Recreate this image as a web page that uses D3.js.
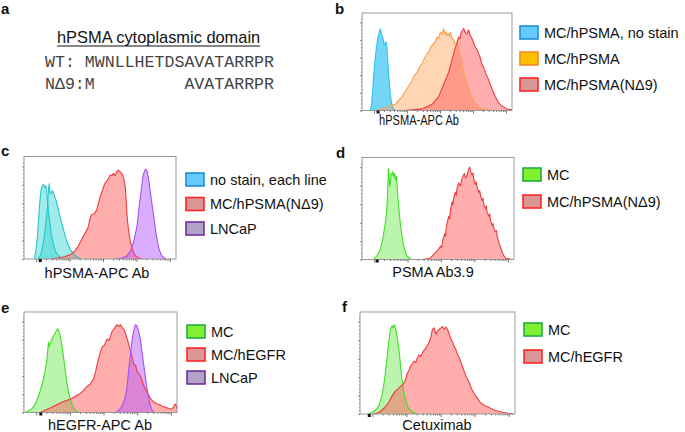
<!DOCTYPE html>
<html>
<head>
<meta charset="utf-8">
<script src="https://cdn.jsdelivr.net/npm/d3@7"></script>
<style>
  body { margin: 0; background: #fff; }
  text { font-family: "Liberation Sans", Arial, sans-serif; fill: #111; }
  .seq { font-family: "Liberation Mono", "Courier New", monospace; fill: #444; font-size: 16.6px; }
</style>
</head>
<body>
<div id="fig"></div>
<script>
// Data (x = channel position in % of axis, y = % of max count)
// ============================================================================
const seqTitle = "hPSMA cytoplasmic domain",
    seqLines = ["WT: MWNLLHETDSAVATARRPR", "N\u03949:M         AVATARRPR"];

const bNoStain = [[5.5,0],[6.5,8],[7.5,30],[8.5,52],[9.5,66],[10.5,78],[11.5,84],[12.2,88],[12.8,83],[13.5,80],[14.2,76],[14.8,70],[15.4,72],[16,74],[16.5,70],[17,58],[17.6,42],[18.3,28],[19,16],[19.8,7],[20.8,2],[22,0]];
const bPSMA = [[10,0],[15.6,3.3],[22.2,6.6],[26.7,14.9],[31.1,26.4],[33,31],[34.4,36.3],[36.7,41.3],[38.9,47.9],[40,50],[41.1,54.5],[43.3,61],[44.5,63],[45.6,67.7],[47.8,72.6],[49,74],[50,79.2],[51,78],[52.2,84.2],[53.2,82],[54.4,88.1],[55.3,82],[56,85],[56.7,80.9],[57.5,83],[58.3,80],[58.9,84.2],[60,78],[61.1,75.9],[62,71],[63.3,74.3],[64.3,66],[65.6,57.8],[67.8,41.3],[70,28],[72.2,18.2],[74.4,9.9],[77.8,3.3],[82.2,0.7],[86.7,0]];
const bND9 = [[28.9,0],[40,1.7],[46.7,6.6],[51.1,14.9],[54.4,28],[57.8,41.3],[60,54.5],[62.2,67.7],[63.3,72],[64.4,79.2],[65.2,77],[66.2,84.2],[67.8,88.4],[68.8,84],[70,82.5],[71.1,86.8],[72.2,81],[73.3,77.6],[74.4,73],[75.6,67.7],[76.6,66],[77.8,61],[79,56],[80,49.5],[81,47],[82.2,41.3],[84.4,33],[86.7,23.1],[88.9,14.9],[91.1,8.3],[93.3,5],[96.7,1.7],[100,0.7]];

const cNoStainA = [[6.7,0],[7.8,8.1],[8.9,24.4],[10,50.3],[11.1,69.8],[12.2,75.6],[12.9,76.3],[13.8,73],[14.4,74.7],[15.1,66.6],[15.6,56.8],[16.7,40.6],[17.8,27.6],[18.9,17.9],[20,11.4],[21.1,6.5],[23.3,2.3],[25.6,0]];
const cNoStainB = [[9.3,0],[11.1,4.9],[12.9,17.9],[14.4,37.3],[15.6,56.8],[16.2,73],[16.7,77],[17.1,68.2],[17.8,66.6],[18.4,69.8],[19.1,69.2],[20,64.9],[21.1,60.1],[22.2,53.6],[23.3,45.5],[24.4,39],[25.6,32.5],[26.7,26],[27.8,19.5],[28.9,14.6],[30,11.4],[31.1,8.1],[33.3,4.2],[35.6,1.6],[37.8,0]];
const cND9 = [[17.8,0],[22.2,1],[26.7,2.3],[31.1,4.9],[33.3,8.1],[35.6,13],[37.8,19.5],[40,26],[42.2,32.5],[43.3,40.6],[44.4,45.5],[46.2,46.1],[47.8,50.3],[48.9,56.8],[50,63.3],[51.1,68.2],[52.2,73.1],[53.3,77.9],[54.4,79.5],[55.6,82.8],[56.7,86],[57.8,85.4],[58.9,87.7],[60,85.4],[61.1,89.9],[62.2,90.9],[63.3,89.3],[64.4,87.7],[65.6,82.8],[66.7,73.1],[67.3,56.8],[68,40.6],[68.9,27.6],[70,17.9],[71.1,11.4],[72.2,6.5],[73.3,3.2],[75.6,1],[77.8,0]];
const cLNCaP = [[60,0],[64.4,1],[67.8,3.2],[70,8.1],[72.2,17.9],[74.4,34.1],[76,56.8],[77.3,73.1],[78.4,86],[79.6,90.9],[80.4,91.9],[81.1,89.3],[82.2,79.5],[83.3,66.6],[84.4,53.6],[85.6,40.6],[86.7,27.6],[87.8,17.9],[88.9,9.7],[90.7,3.2],[93.3,0]];

const dMC = [[7.7,0],[9.9,3.9],[12.1,10.4],[13.6,20.2],[14.9,33.2],[15.8,43],[16.5,56],[16.9,72.3],[17.4,93.5],[17.8,85.3],[18.2,75.6],[18.7,78.8],[19.1,88.6],[19.8,87],[20.2,90.2],[20.9,85.3],[21.5,88.6],[22,82.1],[22.6,85.3],[23.1,75.6],[23.7,62.5],[24.6,46.3],[25.5,33.2],[26.4,23.5],[27.5,13.7],[28.6,7.2],[29.7,3.3],[31.9,0.7],[33,0]];
const dND9 = [[39.6,0],[42.9,0.7],[45.1,1.6],[47.3,5.5],[49.5,8.8],[51.6,13.7],[52.4,12],[53.2,20.2],[54.5,26.7],[55,24],[55.4,33.2],[56.3,39.7],[57.1,44.6],[57.7,42],[58.2,51.1],[59.3,59.3],[59.9,56],[60.4,64.2],[61.5,69.1],[62,66],[62.6,73.9],[63.7,78.8],[64.8,75.6],[65.5,82.1],[66.4,85.3],[67.3,88.6],[68.1,83.7],[69.2,87],[69.9,91.9],[70.8,95.1],[71.6,90.2],[72.5,87],[73,89],[73.6,82.1],[74.7,77.2],[75.2,80],[75.8,73.9],[76.9,69.1],[77.4,71],[78,65.8],[79.1,60.9],[79.6,63],[80.2,56],[81.3,52.8],[81.8,55],[82.4,47.9],[83.5,44.6],[84,47],[84.6,39.7],[85.7,34.9],[86.2,37],[86.8,31.6],[87.9,28.3],[88.4,30],[89,23.5],[90.1,16.9],[91.2,12.1],[92.3,7.2],[93.4,3.9],[94.5,1.3],[96.7,0.7],[98.9,0]];

const eMC = [[0.7,0],[3.9,2.3],[6.1,5.6],[8.3,12.3],[10.5,22.2],[12.3,32.1],[13.8,43.7],[14.9,53.6],[15.6,66.9],[16,73.5],[16.4,68.5],[17.1,71.9],[17.8,75.2],[18.9,78.5],[20,81.8],[21.1,85.1],[21.9,87.4],[22.8,85.1],[23.7,80.1],[24.8,70.2],[25.9,57],[27,43.7],[28.1,30.5],[29.2,20.5],[30.3,13.9],[31.4,8.3],[32.5,4.6],[34.2,1.3],[36.8,0]];
const eEGFR = [[10.5,0],[13.8,2.3],[17.1,4.6],[20.4,7.3],[23.7,9.9],[27,12.3],[30.3,13.9],[33.6,17.2],[36.8,19.9],[39,23.2],[41.2,27.2],[43.4,29.8],[45.6,35.4],[46.7,42.1],[47.8,50.3],[48.9,57],[50,63.6],[51.1,68.5],[52.6,70.2],[53.3,73.5],[54.4,76.8],[55.5,75.2],[56.6,80.1],[57.7,85.1],[58.8,86.8],[59.9,90.1],[61,91.7],[62.1,90.1],[63.2,91.7],[64.3,88.4],[65.4,86.8],[66.4,81.8],[67.5,76.8],[68.6,70.2],[69.7,63.6],[70.8,57],[71.9,50.3],[73,48.7],[74.1,42.1],[75.2,40.4],[76.3,37.1],[78.5,27.2],[80.7,20.5],[82.9,13.9],[85.1,10.6],[87.3,8.9],[89.5,7.3],[91.7,5.6],[93.9,4.6],[96,3.3],[97.8,5.6],[98.7,8.9],[99.6,7.3],[100,4]];
const eLNCaP = [[59.9,0],[62.1,2.3],[64.3,7.3],[65.8,13.9],[67.1,23.8],[68.2,40.4],[69.3,57],[70.2,70.2],[71.1,80.1],[71.9,86.8],[72.8,91.7],[73.7,90.7],[74.6,86.8],[75.4,81.8],[76.3,73.5],[77.4,60.3],[78.5,47],[79.6,33.8],[80.7,22.2],[81.8,12.3],[82.9,5.6],[84,1.3],[85.1,0]];

const fMC = [[5.4,0],[8.7,2.3],[10.9,5.5],[12.6,10.4],[14.1,18.6],[15.2,28.3],[16.3,41.4],[17.4,57.7],[18.5,73.9],[19.6,87],[20.7,90.9],[21.3,88.6],[22.2,91.9],[22.8,88.6],[23.9,80.5],[25,67.4],[26.1,51.1],[27.2,34.9],[28.3,23.5],[29.3,15.3],[30.4,9.4],[31.5,5.5],[33.7,2.3],[37,0]];
const fEGFR = [[8.7,0],[12,1.6],[14.1,3.9],[16.3,7.2],[18.5,12.1],[20.7,18.6],[22.8,23.5],[25,26.7],[27.2,30],[28.3,31.6],[29.3,34.9],[30.4,41.4],[31.5,44.6],[32.6,49.5],[33.7,51.1],[34.8,54.4],[35.9,52.8],[37,57.7],[38,60.9],[39.1,59.3],[40.2,62.5],[41.3,65.8],[42.4,67.4],[43.5,70.7],[44.6,73.9],[45.7,78.8],[46.7,87],[47.8,88.6],[48.9,82.1],[50,85.3],[51.1,87],[52.2,88.6],[53.3,90.2],[54.3,87],[55.4,89.6],[56.5,87],[57.6,82.1],[58.7,77.2],[59.8,73.9],[60.9,69.1],[62,65.8],[63,60.9],[64.1,57.7],[65.2,52.8],[66.3,47.9],[67.4,43],[68.5,38.1],[69.6,34.9],[70.7,31.6],[71.7,26.7],[72.8,23.5],[73.9,20.2],[75,17.9],[76.1,15.3],[77.2,12.7],[78.3,11.1],[79.3,9.8],[80.4,8.8],[82.6,7.2],[84.8,5.5],[87,3.9],[89.1,2.9],[92.4,1.6],[95.7,0.7],[98.9,0]];

// Axis ticks (decades of the log channel axis, count axis)
const decadeTicks = [8, 30, 52, 74, 96],
    countTicks = [0, 19, 38, 57, 76, 95];

// Styles
// ============================================================================
const styles = {
    blue:   {fill: "#5ccff6", op: 0.85, stroke: "#32c0ee", sw: "#66ccff", sb: "#1e8fd6"},
    orange: {fill: "#fca45c", op: 0.45, stroke: "#f7a24c", sw: "#ffc000", sb: "#ef8a2c"},
    red:    {fill: "#ff5c5c", op: 0.5,  stroke: "#f23b3b", sw: "#d99694", sb: "#ff2626"},
    teal:   {fill: "#2fd3d3", op: 0.45, stroke: "#26c7cc", sw: "#66ccff", sb: "#1e8fd6"},
    purple: {fill: "#b45cff", op: 0.5,  stroke: "#a452ee", sw: "#b3a2c7", sb: "#7030a0"},
    green:  {fill: "#5ee83c", op: 0.42, stroke: "#3fe024", sw: "#80f030", sb: "#1fb040"}
};

const panels = [
    {tag: "b", box: [362, 13, 512, 110.5], tagPos: [335, 14], xlab: "hPSMA-APC Ab", xlabPos: [419, 125], xlabLen: 80,
        legend: [520, 26, 26], zero: 10.7,
        series: [{d: bNoStain, s: "blue"}, {d: bPSMA, s: "orange"}, {d: bND9, s: "red"}],
        keys: [["MC/hPSMA, no stain", "blue"], ["MC/hPSMA", "orange"], ["MC/hPSMA(N\u03949)", "red"]]},
    {tag: "c", box: [24, 156.5, 176, 259], tagPos: [1, 156], xlab: "hPSMA-APC Ab", xlabPos: [97, 278],
        legend: [186, 173, 24.5], zero: 10.7,
        series: [{d: cNoStainA, s: "teal"}, {d: cNoStainB, s: "teal"}, {d: cND9, s: "red"}, {d: cLNCaP, s: "purple"}],
        keys: [["no stain, each line", "teal"], ["MC/hPSMA(N\u03949)", "red"], ["LNCaP", "purple"]]},
    {tag: "d", box: [362, 157.5, 514, 259.5], tagPos: [336, 158], xlab: "PSMA Ab3.9", xlabPos: [433, 277],
        legend: [523, 168, 27], zero: 10,
        series: [{d: dMC, s: "green"}, {d: dND9, s: "red"}],
        keys: [["MC", "green"], ["MC/hPSMA(N\u03949)", "red"]]},
    {tag: "e", box: [24, 312, 177, 412.5], tagPos: [1, 313], xlab: "hEGFR-APC Ab", xlabPos: [100, 430],
        legend: [187, 325, 23], zero: 11,
        series: [{d: eMC, s: "green"}, {d: eEGFR, s: "red"}, {d: eLNCaP, s: "purple"}],
        keys: [["MC", "green"], ["MC/hEGFR", "red"], ["LNCaP", "purple"]]},
    {tag: "f", box: [360, 312, 515, 414], tagPos: [342, 312], xlab: "Cetuximab", xlabPos: [437, 430],
        legend: [524, 323, 27], zero: 6,
        series: [{d: fMC, s: "green"}, {d: fEGFR, s: "red"}],
        keys: [["MC", "green"], ["MC/hEGFR", "red"]]}
];

// Plot
// ============================================================================
const svg = d3.select("#fig").append("svg")
    .attr("width", 685)
    .attr("height", 432);

// Panel a: sequence text
svg.append("text").attr("x", 1).attr("y", 14)
    .attr("font-weight", "bold").attr("font-size", 15).text("a");
const title = svg.append("text").attr("x", 57).attr("y", 43)
    .attr("font-size", 16.4).text(seqTitle);
const tw = title.node().getComputedTextLength();
svg.append("line").attr("x1", 57).attr("x2", 57 + tw).attr("y1", 46).attr("y2", 46)
    .attr("stroke", "#111").attr("stroke-width", 1);
seqLines.forEach((s, i) => {
    svg.append("text").attr("class", "seq").attr("x", 45).attr("y", 67 + i * 22)
        .attr("xml:space", "preserve").style("white-space", "pre").text(s);
});

panels.forEach(p => {
    const [x0, y0, x1, y1] = p.box;
    const x = d3.scaleLinear().domain([0, 100]).range([x0, x1]);
    const y = d3.scaleLinear().domain([0, 105]).range([y1, y0]);
    const g = svg.append("g");

    // Tag letter
    svg.append("text").attr("x", p.tagPos[0]).attr("y", p.tagPos[1])
        .attr("font-weight", "bold").attr("font-size", 15).text(p.tag);

    // Histograms
    const area = d3.area().x(d => x(d[0])).y0(y(0)).y1(d => y(d[1]));
    const line = d3.line().x(d => x(d[0])).y(d => y(d[1]));
    p.series.forEach(s => {
        const st = styles[s.s];
        g.append("path").datum(s.d).attr("d", area)
            .attr("fill", st.fill).attr("fill-opacity", st.op);
    });
    p.series.forEach(s => {
        const st = styles[s.s];
        g.append("path").datum(s.d).attr("d", line)
            .attr("fill", "none").attr("stroke", st.stroke)
            .attr("stroke-width", 1.1).attr("stroke-linejoin", "round");
    });

    // Frame
    svg.append("rect").attr("x", x0).attr("y", y0)
        .attr("width", x1 - x0).attr("height", y1 - y0)
        .attr("fill", "none").attr("stroke", "#9a9a9a").attr("stroke-width", 1);

    // Minor log ticks
    const minor = [];
    decadeTicks.forEach(t => d3.range(2, 10).forEach(k => {
        const v = t + 22 * Math.log10(k);
        if (v < 100) minor.push(v);
    }));
    const ax = svg.append("g").attr("transform", `translate(0,${y1})`);
    ax.call(d3.axisBottom(x).tickValues(decadeTicks).tickSize(3).tickFormat(""));
    ax.append("g").call(d3.axisBottom(x).tickValues(minor).tickSize(1.5).tickFormat(""));
    ax.selectAll(".domain").remove();
    ax.selectAll("line").attr("stroke", "#777");
    ax.append("line").attr("x1", x(p.zero)).attr("x2", x(p.zero)).attr("y1", 0).attr("y2", 3)
        .attr("stroke", "#111").attr("stroke-width", 3);

    const ay = svg.append("g").attr("transform", `translate(${x0},0)`);
    ay.call(d3.axisLeft(y).tickValues(countTicks).tickSize(2).tickFormat(""));
    ay.append("g").call(d3.axisLeft(y).tickValues(d3.range(0, 100, 3.8)).tickSize(1).tickFormat(""));
    ay.selectAll(".domain").remove();
    ay.selectAll("line").attr("stroke", "#888");

    // Axis label
    const xl = svg.append("text").attr("x", p.xlabPos[0]).attr("y", p.xlabPos[1])
        .attr("text-anchor", "middle").attr("font-size", 14.5).text(p.xlab);
    if (p.xlabLen) xl.attr("textLength", p.xlabLen).attr("lengthAdjust", "spacingAndGlyphs");

    // Legend
    const [lx, ly, step] = p.legend;
    p.keys.forEach((k, i) => {
        const st = styles[k[1]];
        svg.append("rect").attr("x", lx).attr("y", ly + i * step)
            .attr("width", 18).attr("height", 13)
            .attr("fill", st.sw).attr("stroke", st.sb).attr("stroke-width", 1.6);
        svg.append("text").attr("x", lx + 24).attr("y", ly + i * step + 11.5)
            .attr("font-size", 14.5).text(k[0]);
    });
});
</script>
</body>
</html>
